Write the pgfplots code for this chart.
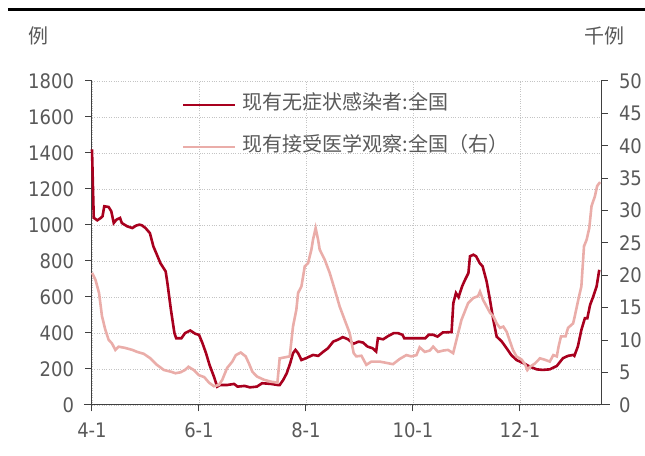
\documentclass[border=0pt]{standalone}
\usepackage{pgfplots}
\pgfplotsset{compat=1.18}
\usepackage{pgfplotstable}
\usepackage{fontspec}
\setmainfont{DejaVu Sans Condensed}
\newfontfamily\cjk{Noto Sans CJK SC}
\definecolor{darkred}{HTML}{A8001E}
\definecolor{pinkline}{HTML}{EAADA9}
\definecolor{txtgray}{HTML}{595959}
\definecolor{axgray}{HTML}{404040}
\definecolor{gridgray}{HTML}{C4C4C4}

% day counted from 4-1
\pgfplotstableread{
day val
0 1420
1 1040
3 1026
5 1039
6 1048
7 1104
9.5 1100
11 1076
12.4 1011
14 1030
16 1039
17 1011
20 993
23 983
25 996
27 1002
28.5 998
30.5 983
33 955
35 881
37 835
39 788
42 742
43 677
45 529
47 399
48 371
51 371
53 399
56 414
59 395
61 390
63 343
65 288
67 223
69.5 158
71.4 102
73 111
77 111
81 117
83 102
87 106
90 98
94 102
97 121
102 117
106 111
107 111
109 139
111 176
113 232
114.6 288
116 306
117.5 288
119.4 250
122 260
126 278
129 273
132 297
134.5 315
137.5 352
140 362
143 377
146 365
149 340
152 352
154.5 347
157 325
160 315
162 297
163 371
166 365
169 384
172 399
174.5 399
177 390
178 371
182 371
186 371
190 371
192 390
194.5 390
197 380
200 403
205 405
206 566
207.5 622
209 599
211 659
212.7 696
214.6 733
215.5 826
217.4 835
219 826
221 789
222.7 770
225 686
226.9 584
228.8 473
230.7 380
233.6 353
236.4 315
239 278
242 250
246 232
249.7 213
253.5 198
257 195
261 198
265 217
268.5 260
271.4 273
274.3 278
275 273
277 325
279 417
281 482
282.4 482
284 557
285.8 603
287.7 659
289.2 751
}\asymtable

\pgfplotstableread{
day val
0 20.4
2 19.3
4 17.3
5.7 13.7
7.6 11.6
9.5 10.05
11.4 9.5
13.3 8.5
15.2 9.0
19 8.8
23 8.5
25.7 8.2
29.5 7.9
33.3 7.2
37 6.2
41 5.4
44.8 5.15
47.6 4.9
50.5 5.05
53 5.4
55 5.9
58 5.4
61 4.6
64 4.3
66.7 3.45
69.5 2.9
72.4 3.1
74.3 3.9
77 5.7
80 6.7
82 7.7
84.8 8.1
87.6 7.5
89.5 6.4
91.4 5.15
94 4.4
98 3.9
102 3.6
105.7 3.45
107 7.2
112.7 7.5
114.6 12.1
116.5 14.7
117.5 17.3
119.4 18.3
121.3 21.4
123.2 21.9
125.1 24
126 25.5
127.5 27.3
128.9 25.5
129.8 24
132.7 22.4
135.5 20.4
138.4 17.8
141.2 15.2
144.1 13.1
146.9 11.1
149.2 8.0
150.7 7.5
153.6 7.6
156.4 6.2
159.3 6.7
164 6.7
167.8 6.5
171.6 6.3
175.4 7.1
179.2 7.7
182.1 7.5
185 7.7
186.8 8.9
189.7 8.2
192.6 8.4
194.5 9.0
197.3 8.2
200.2 8.4
203 8.5
205.9 8.0
207.8 10.05
210.6 13.1
212.5 14.4
214.4 15.7
217.3 16.5
220.1 16.8
221.2 17.5
223 16.2
225 15.2
227 14.2
228.8 13.7
230.7 12.6
232.6 11.9
234.5 12.1
236.4 11.3
238 10.05
240 8.5
242 7.5
245 7.0
247 6.2
248.2 5.4
249.7 5.9
252.5 6.4
255.4 7.2
258 7.0
261 6.7
263 7.7
265 7.5
266 9.0
267.4 10.6
270 10.6
271.4 11.9
274.3 12.6
275 13.4
277.7 16.8
279 18.3
280.5 24.5
282 25.5
283.5 27.3
284.8 30.7
286.7 32.2
288 33.8
289.7 34.4
}\obstable

\pgfplotsset{
  base/.style={
    at={(0,0)}, anchor=south west,
    scale only axis, width=509bp, height=324bp,
    xmin=0, xmax=290.2, ymin=0,
    tick align=outside, major tick length=6.5bp,
    axis line style={axgray, line width=1bp},
    tick style={axgray, line width=1bp},
    ticklabel style={font=\fontsize{20bp}{24bp}\selectfont, text=txtgray},
    /pgf/number format/assume math mode=true,
    /pgf/number format/1000 sep={},
    scaled y ticks=false,
    clip=false,
  }
}

\begin{document}
\begin{tikzpicture}[x=1bp,y=1bp]
\useasboundingbox (-92,-51) rectangle (553,405);
\draw[line width=2.2bp] (-84,395.5) -- (553,395.5);
\node[font=\cjk\fontsize{20bp}{24bp}\selectfont, text=txtgray] at (-53.5,369) {例};
\node[font=\cjk\fontsize{20bp}{24bp}\selectfont, text=txtgray] at (512,369) {千例};

\begin{axis}[base,
  ymax=1800,
  axis x line*=bottom, axis y line*=left,
  x axis line style={shorten <=-8bp, shorten >=-9bp},
  xtick={0,61,122,183,244}, xticklabels={4-1,6-1,8-1,10-1,12-1},
  ytick={0,200,...,1800},
  xmajorgrids, ymajorgrids,
  major grid style={dotted, line width=0.7bp, gridgray},
  xticklabel style={yshift=-8bp},
  yticklabel style={xshift=-8bp},
]
\addplot[darkred, line width=2.6bp] table[x=day,y=val]{\asymtable};
\end{axis}

\begin{axis}[base,
  ymax=50,
  axis y line*=right, axis x line=none,
  ytick={0,5,...,50},
  yticklabel style={xshift=8bp},
  legend cell align=left,
  legend image code/.code={\draw[#1] (0bp,0bp) -- (52bp,0bp);},
  legend style={at={(0.1768,0.958)}, anchor=north west, draw=none, fill=none,
    inner sep=0pt, row sep=22bp, column sep=6bp,
    nodes={inner sep=0pt, text height=15bp, text depth=5bp},
    font=\cjk\fontsize{20bp}{24bp}\selectfont, text=txtgray},
]
\addlegendimage{darkred, line width=2.6bp}
\addlegendentry{现有无症状感染者:全国}
\addplot[pinkline, line width=2.6bp] table[x=day,y=val]{\obstable};
\addlegendentry{现有接受医学观察:全国（右）}
\end{axis}
\end{tikzpicture}
\end{document}
